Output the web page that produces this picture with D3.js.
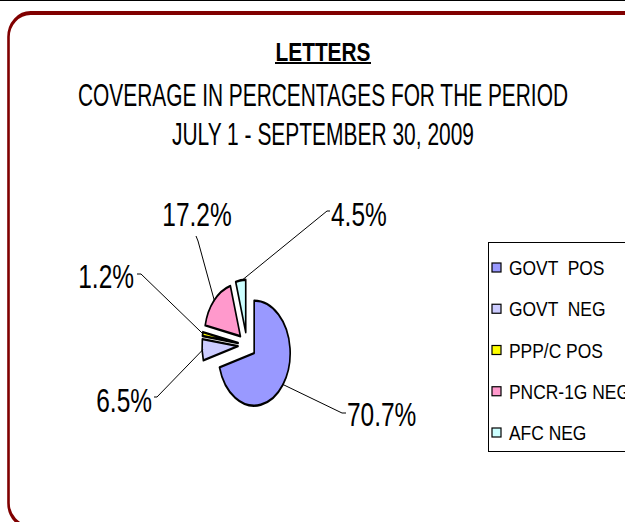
<!DOCTYPE html>
<html>
<head>
<meta charset="utf-8">
<script src="https://cdn.jsdelivr.net/npm/d3@7"></script>
<style>
  body { margin: 0; background: #fff; }
  svg { display: block; }
</style>
</head>
<body>
<svg id="chart" width="625" height="522"></svg>
<script>
// Letters coverage, July 1 - September 30, 2009
const categories = ["GOVT  POS", "GOVT  NEG", "PPP/C POS", "PNCR-1G NEG", "AFC NEG"];
const values = [70.7, 6.5, 1.2, 17.2, 4.5];
const colors = ["#9999FF", "#CCCCFF", "#FFFF00", "#FF99CC", "#CCFFFF"];
const titleLines = ["LETTERS", "COVERAGE IN PERCENTAGES FOR THE PERIOD", "JULY 1 - SEPTEMBER 30, 2009"];

const W = 625, H = 522;
const FONT = "'Liberation Sans', Arial, Helvetica, sans-serif";
const svg = d3.select("#chart");

svg.append("rect").attr("width", W).attr("height", H).attr("fill", "#fff");

// thin rule along the top edge
svg.append("line")
  .attr("x1", 0).attr("x2", W).attr("y1", 0.5).attr("y2", 0.5)
  .attr("stroke", "#000").attr("stroke-width", 1);

// rounded frame (drawn in a horizontally compressed space)
const frameSx = 0.65;
svg.append("g")
  .attr("transform", `translate(8.5,13) scale(${frameSx},1)`)
  .append("rect")
  .attr("x", 0).attr("y", 0)
  .attr("width", (680 - 8.5) / frameSx).attr("height", 514)
  .attr("rx", 34).attr("ry", 24)
  .attr("fill", "none")
  .attr("stroke", "#800000")
  .attr("stroke-width", 4);

// titles
const titleG = svg.append("g")
  .attr("font-family", FONT)
  .attr("text-anchor", "middle")
  .attr("fill", "#000");

const titleSpecs = [
  { y: 60.5, size: 26.5, weight: "bold", len: 95 },
  { y: 105.5, size: 31.5, weight: "normal", len: 490 },
  { y: 145, size: 31, weight: "normal", len: 302 }
];
titleG.selectAll("text")
  .data(titleLines)
  .join("text")
  .attr("x", 323)
  .attr("y", (d, i) => titleSpecs[i].y)
  .attr("font-size", (d, i) => titleSpecs[i].size)
  .attr("font-weight", (d, i) => titleSpecs[i].weight)
  .attr("textLength", (d, i) => titleSpecs[i].len)
  .attr("lengthAdjust", "spacingAndGlyphs")
  .text(d => d);

// underline under the main heading
titleG.append("line")
  .attr("x1", 275).attr("x2", 371)
  .attr("y1", 63).attr("y2", 63)
  .attr("stroke", "#000").attr("stroke-width", 2);

// exploded pie, drawn as an ellipse (x compressed)
const cx = 247, cy = 345.2, pieSx = 0.686, r = 52.5, explode = 13.1;
const arcs = d3.pie().sort(null).value(d => d)(values);
const arc = d3.arc().innerRadius(0).outerRadius(r);
const mid = d => (d.startAngle + d.endAngle) / 2;

const pieG = svg.append("g")
  .attr("transform", `translate(${cx},${cy}) scale(${pieSx},1)`);

pieG.selectAll("path")
  .data(arcs)
  .join("path")
  .attr("transform", d => `translate(${Math.sin(mid(d)) * explode},${-Math.cos(mid(d)) * explode})`)
  .attr("d", arc)
  .attr("fill", (d, i) => colors[i])
  .attr("stroke", "#000")
  .attr("stroke-width", 2.4)
  .attr("stroke-linejoin", "round");

// data labels with leader lines
const labelLayout = [
  { anchor: "start",  elbow: [342, 413], tick: [346, 413], text: [347, 426] },
  { anchor: "end",    elbow: [157, 397], tick: [154, 397], text: [152, 411.5] },
  { anchor: "end",    elbow: [141, 274], tick: [137, 274], text: [134, 288] },
  { anchor: "middle", elbow: [198, 241], tick: [196, 236], text: [197, 226] },
  { anchor: "start",  elbow: [327, 211], tick: [330, 211], text: [331, 226] }
];

const outerPoint = d => {
  const m = mid(d), rr = r + explode - 1;
  return [cx + Math.sin(m) * rr * pieSx, cy - Math.cos(m) * rr];
};

const labelG = svg.append("g").attr("font-family", FONT).attr("fill", "#000");

labelG.selectAll("path.leader")
  .data(arcs)
  .join("path")
  .attr("class", "leader")
  .attr("d", (d, i) => d3.line()([outerPoint(d), labelLayout[i].elbow, labelLayout[i].tick]))
  .attr("fill", "none")
  .attr("stroke", "#000")
  .attr("stroke-width", 1);

const fmt = d3.format(".1f");
labelG.selectAll("text")
  .data(arcs)
  .join("text")
  .attr("transform", (d, i) => `translate(${labelLayout[i].text[0]},${labelLayout[i].text[1]}) scale(0.72,1)`)
  .attr("text-anchor", (d, i) => labelLayout[i].anchor)
  .attr("font-size", 34)
  .text(d => fmt(d.data) + "%");

// legend
const legendG = svg.append("g").attr("font-family", FONT);
legendG.append("rect")
  .attr("x", 488.5).attr("y", 242.5)
  .attr("width", 200).attr("height", 209)
  .attr("fill", "#fff")
  .attr("stroke", "#000")
  .attr("stroke-width", 1);

const rowY = d3.scalePoint().domain(categories).range([267.5, 432.5]);

legendG.selectAll("rect.key")
  .data(categories)
  .join("rect")
  .attr("class", "key")
  .attr("x", 492)
  .attr("y", d => rowY(d) - 4.5)
  .attr("width", 9).attr("height", 9)
  .attr("fill", (d, i) => colors[i])
  .attr("stroke", "#000")
  .attr("stroke-width", 1.2);

legendG.selectAll("text")
  .data(categories)
  .join("text")
  .attr("transform", d => `translate(509,${rowY(d) + 7.5}) scale(0.83,1)`)
  .attr("font-size", 21)
  .attr("fill", "#000")
  .style("white-space", "pre")
  .text(d => d);
</script>
</body>
</html>
